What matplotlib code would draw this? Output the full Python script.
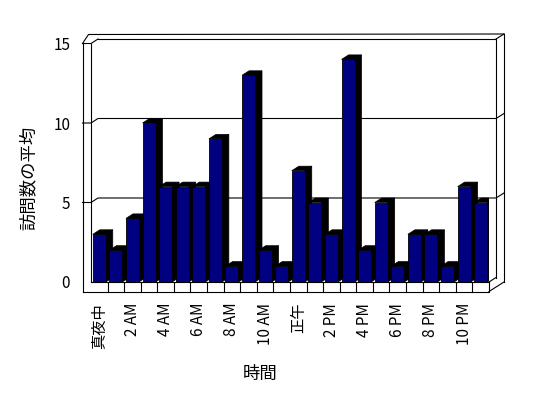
import matplotlib.pyplot as plt
from matplotlib.patches import Polygon

plt.rcParams['font.family'] = ['Noto Sans CJK JP', 'DejaVu Sans']

# データ
hours = ['真夜中', '1 AM', '2 AM', '3 AM', '4 AM', '5 AM', '6 AM', '7 AM', '8 AM', '9 AM',
         '10 AM', '11 AM', '正午', '1 PM', '2 PM', '3 PM', '4 PM', '5 PM', '6 PM', '7 PM',
         '8 PM', '9 PM', '10 PM', '11 PM']
visits = [3, 2, 4, 10, 6, 6, 6, 9, 1, 13, 2, 1, 7, 5, 3, 14, 2, 5, 1, 3, 3, 1, 6, 5]
y_ticks = [0, 5, 10, 15]

fig = plt.figure(figsize=(5.48, 3.98), dpi=100)
# 前面の枠 (px): x 91-489, y 282-43.5
ax = fig.add_axes([91 / 548, 116 / 398, 398 / 548, 238.5 / 398])
n = len(visits)
x0, x1 = -0.5, n - 0.5
y0, y1 = 0, 15
ax.set_xlim(x0, x1)
ax.set_ylim(y0, y1)

# px -> データ単位
ux = (x1 - x0) / 398
uy = (y1 - y0) / 238.5
dx, dy = 7 * ux, 4.5 * uy      # 奥行き
bx, by = 8 * ux, 5 * uy        # 奥の壁の厚み
wl = 8.5 * ux                  # 左の壁の厚み
ft = 9.5 * uy                  # 床の厚み

lk = dict(color='black', lw=0.8, clip_on=False, zorder=1)

def line(xs, ys):
    ax.plot(xs, ys, **lk)

# 左の壁
line([x0 - wl, x0 - wl], [y0 - ft, y1])
line([x0, x0], [y0, y1])
line([x0 - wl, x0, x0 + dx], [y1, y1, y1 + dy])
line([x0 - wl, x0 - wl + 6 * ux, x1 + dx + bx], [y1, y1 + 9 * uy, y1 + dy + by])
# 奥の壁
line([x0 + dx, x1 + dx, x1 + dx], [y1 + dy, y1 + dy, y0 + dy])
line([x1 + dx, x1 + dx + bx], [y1 + dy, y1 + dy + by])
line([x1 + dx + bx, x1 + dx + bx], [y1 + dy + by, y0 - ft + dy + by])
# 目盛線
for v in y_ticks[1:-1]:
    line([x0 - wl, x0, x0 + dx, x1 + dx, x1 + dx + bx],
         [v, v, v + dy, v + dy, v + dy + by])
# 床
line([x0, x1], [y0, y0])
line([x0 - wl, x1, x1], [y0 - ft, y0 - ft, y0])
line([x1, x1 + dx], [y0, y0 + dy])
line([x1, x1 + dx + bx], [y0 - ft, y0 - ft + dy + by])
for k in range(n - 1):
    line([k + 0.5, k + 0.5], [y0 - ft, y0])

# 棒 (側面と上面は黒)
w = 0.78
for i, v in enumerate(visits):
    a, b = i - w / 2, i + w / 2
    side = Polygon([(b, 0), (b + dx, dy), (b + dx, v + dy), (b, v)],
                   closed=True, facecolor='black', edgecolor='black', lw=0.5, zorder=2)
    top = Polygon([(a, v), (a + dx, v + dy), (b + dx, v + dy), (b, v)],
                  closed=True, facecolor='black', edgecolor='black', lw=0.5, zorder=2)
    ax.add_patch(side)
    ax.add_patch(top)
ax.bar(range(n), visits, width=w, color='#000080', edgecolor='black', lw=0.6, zorder=3)

# 軸
for s in ax.spines.values():
    s.set_visible(False)
ax.set_yticks(y_ticks)
ax.set_xticks(range(0, n, 2), hours[::2], rotation=90, va='top')
ax.tick_params(axis='both', length=0, labelsize=11)
ax.tick_params(axis='x', pad=15)
ax.tick_params(axis='y', pad=15)

ax.set_ylabel('訪問数の平均', fontsize=12.5, va='center', ha='center')
ax.yaxis.set_label_coords(-0.157, 0.436)
ax.set_xlabel('時間', fontsize=12.5, va='center', ha='center')
ax.xaxis.set_label_coords(0.4246, -0.386)

plt.savefig('out.png', dpi=100)
